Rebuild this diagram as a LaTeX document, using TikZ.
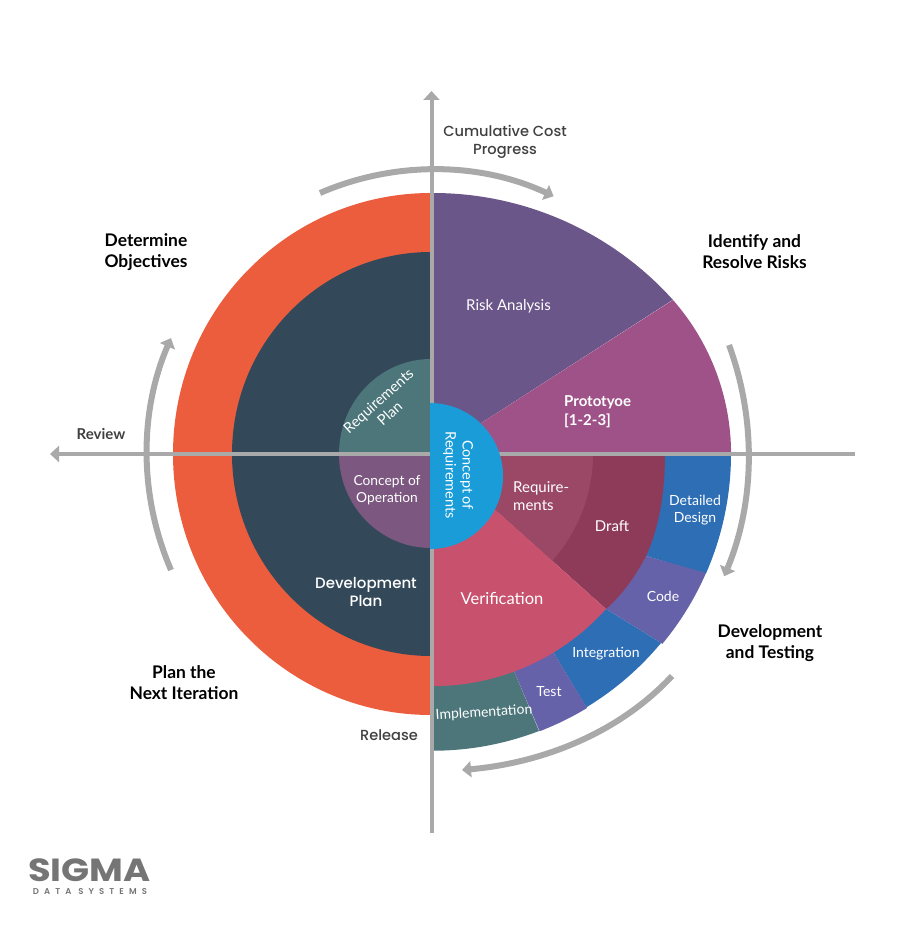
\documentclass[tikz,border=0pt]{standalone}
\usepackage{fontspec}
\usetikzlibrary{arrows.meta}
\setmainfont{Lato}
\newfontfamily\popf{Poppins Medium}
\newfontfamily\logob{Poppins Bold}
\newfontfamily\logos[LetterSpace=60]{Poppins SemiBold}
\definecolor{cgray}{HTML}{A9A9A9}
\definecolor{corange}{HTML}{EC5D3E}
\definecolor{cdark}{HTML}{334959}
\definecolor{crisk}{HTML}{6B5689}
\definecolor{cproto}{HTML}{9F5288}
\definecolor{creq}{HTML}{9B4866}
\definecolor{cdraft}{HTML}{8E3B59}
\definecolor{cver}{HTML}{C8526E}
\definecolor{cblue}{HTML}{2D6EB5}
\definecolor{cviolet}{HTML}{6662AA}
\definecolor{cteal}{HTML}{4C767A}
\definecolor{ccyan}{HTML}{1A9CD8}
\definecolor{coper}{HTML}{7C5780}
\definecolor{cink}{HTML}{404040}
\definecolor{clogo}{HTML}{757575}
\tikzset{
 axisline/.style={cgray,line width=4pt,-{Triangle[length=9pt,width=16pt]}},
 ringarrow/.style={cgray,line width=6pt,-{Triangle[length=9pt,width=16pt]}},
 inlabel/.style={white,align=center,font=\fontsize{15}{18.5}\selectfont,inner sep=0pt},
 smlabel/.style={inlabel,font=\fontsize{14}{17.5}\selectfont},
 outlabel/.style={black,align=center,font=\fontsize{17.4}{21}\selectfont\bfseries,inner sep=0pt},
 greylabel/.style={cink,align=center,font=\fontsize{14.6}{18.5}\selectfont\popf,inner sep=0pt},
}
\begin{document}
\begin{tikzpicture}[x=1pt,y=-1pt]
\useasboundingbox (0,0) rectangle (905,925);
\coordinate (c) at (433,454);
% left half
\fill[corange] (431,193) arc[start angle=-90,end angle=-270,x radius=258,y radius=261] -- cycle;
\fill[cdark] (431,252) arc[start angle=-90,end angle=-270,x radius=199,y radius=202] -- cycle;
\fill[cteal] (431,359) arc[start angle=-90,end angle=-180,x radius=92,y radius=95] -- (431,454) -- cycle;
\fill[coper] (339,454) arc[start angle=180,end angle=90,x radius=92,y radius=94] -- (431,454) -- cycle;
% upper right
\fill[crisk] (431,193) -- (433,193) arc[start angle=-90,end angle=-42,radius=322.7] -- (433,454) -- (431,454) -- cycle;
\fill[cproto] (433,454) -- (673,300) arc[start angle=-41.3,end angle=0,radius=233.4] -- cycle;
% outer lower-right band (inner edges are hidden under the inner sectors)
\fill[cblue] (731,454) arc[start angle=0,end angle=23.7,radius=298] -- (646,556) -- (600,520) -- (600,454) -- cycle;
\fill[cviolet] (706,573) arc[start angle=23.6,end angle=39.7,radius=297] -- (606,609) -- (600,520) -- (646,556) -- cycle;
\fill[cblue] (661,643) arc[start angle=39.7,end angle=58.8,radius=297] -- (552,650) -- (560,600) -- (606,609) -- cycle;
\fill[cviolet] (587,708) arc[start angle=58.8,end angle=69,radius=297] -- (514,671) -- (520,640) -- (552,650) -- cycle;
\fill[cteal] (539,731) arc[start angle=69,end angle=90,radius=297] -- (431,751) -- (431,660) -- (505,650) -- (514,671) -- cycle;
% inner lower right
\fill[cdraft] (433,454) -- (665,454) .. controls (665,493) and (659,528) .. (646,556) .. controls (635,577) and (622,595) .. (606,609) -- cycle;
\fill[creq] (433,454) -- (593,454) arc[start angle=0,end angle=41.9,radius=160] -- cycle;
\fill[cver] (433,454) -- (606,609) arc[start angle=41.9,end angle=90,radius=232] -- (431,686) -- (431,454) -- cycle;
% axes and ring arrows
\coordinate (axB) at (431.5,833); \coordinate (axT) at (431.5,91);
\coordinate (axR) at (855,454); \coordinate (axL) at (50,454);
\draw[axisline] (axB) -- (axT);
\draw[axisline] (axR) -- (axL);
\draw[ringarrow] (320,193) arc[start angle=246.6,end angle=295,radius=285];
\draw[ringarrow] (729,345) arc[start angle=-20.2,end angle=22.6,radius=317];
\draw[ringarrow] (672,676) .. controls (618,734) and (541,763) .. (462,770);
\draw[ringarrow] (171,570) arc[start angle=156.6,end angle=203.4,radius=292];
% centre half disc
\fill[ccyan] (430,403) arc[start angle=-90,end angle=90,radius=73] -- cycle;
% inner labels
\node[inlabel] (riskl) at (508.5,306) {Risk Analysis};
\node[inlabel,font=\fontsize{15}{19}\selectfont\bfseries,align=left,anchor=west] (protol) at (564,412) {Prototyoe\\{}[1-2-3]};
\node[inlabel,align=left,anchor=west] (reql) at (513,496) {Require-\\ments};
\node[inlabel] (draftl) at (612,526) {Draft};
\node[smlabel] (detl) at (695,510) {Detailed\\Design};
\node[smlabel] (codel) at (663,596) {Code};
\node[smlabel] (intl) at (606,654) {Integration};
\node[smlabel] (testl) at (549,692) {Test};
\node[smlabel,rotate=3.5] (impl) at (484,713) {Implementation};
\node[inlabel,font=\fontsize{16.5}{20}\selectfont] (verl) at (502,598) {Verification};
\node[inlabel,rotate=-90,font=\fontsize{14.4}{17}\selectfont] (concl) at (458,475) {Concept of\\Requirements};
\node[inlabel,rotate=42,font=\fontsize{14.6}{17}\selectfont] (planl) at (384,407) {Requirements\\Plan};
\node[smlabel,font=\fontsize{13.8}{16.5}\selectfont] (operl) at (387,490) {Concept of\\Operation};
\node[inlabel,font=\fontsize{15}{18.5}\selectfont\popf] (devl) at (366,592) {Development\\Plan};
% outer labels
\node[outlabel] (detl2) at (146,252) {Determine\\Objectives};
\node[outlabel] (idl) at (754.5,252) {Identify and\\Resolve Risks};
\node[outlabel] (dtl) at (770,643) {Development\\and Testing};
\node[outlabel] (pnl) at (184,683) {Plan the\\Next Iteration};
\node[cink,inner sep=0pt,font=\fontsize{15}{17}\selectfont\bfseries] (revl) at (101,434) {Review};
\node[greylabel] (rell) at (389,735) {Release};
\node[greylabel] (cumul) at (505,142) {Cumulative Cost\\Progress};
% logo
\node[inner sep=0pt,text=clogo,xscale=1.15,font=\fontsize{32}{32}\selectfont\logob] (logoa) at (89.5,870) {SIGMA};
\node[inner sep=0pt,text=clogo,font=\fontsize{8.5}{9}\selectfont\logos] (logob) at (90,892) {DATA\hspace{7pt}SYSTEMS};
\end{tikzpicture}
\end{document}
